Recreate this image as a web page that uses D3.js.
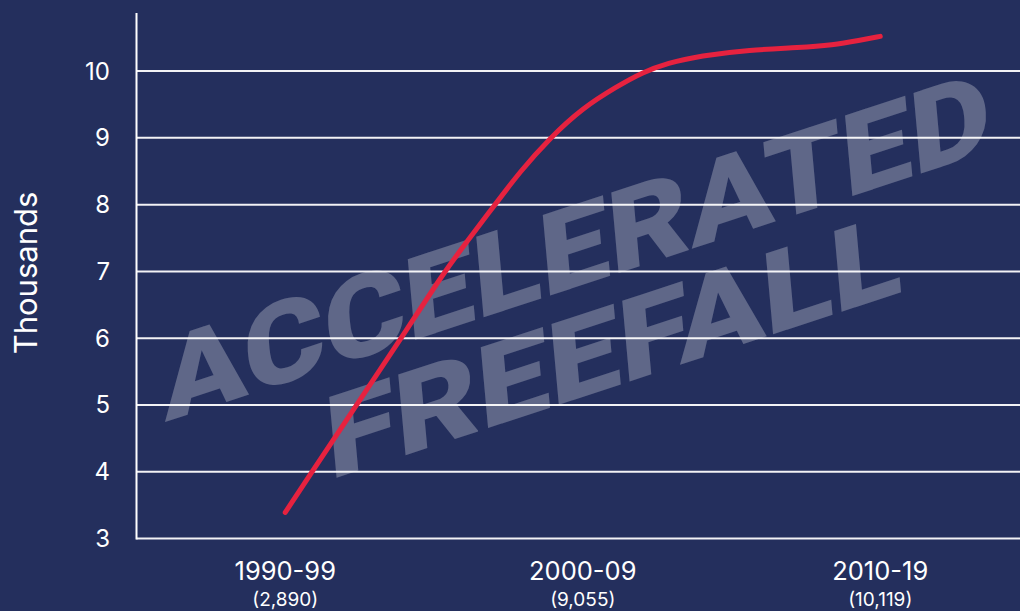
<!DOCTYPE html>
<html><head><meta charset="utf-8">
<script src="https://cdn.jsdelivr.net/npm/d3@7"></script>
<style>html,body{margin:0;padding:0;background:#242f5d;overflow:hidden} svg{display:block}</style>
</head><body><svg id="c" width="1020" height="611"></svg>
<script>
// ---- data ----
const decades = ["1990-99", "2000-09", "2010-19"];
const decadeTotals = ["(2,890)", "(9,055)", "(10,119)"];
const decadeMid = [1995, 2005, 2015];
const yTicks = [3, 4, 5, 6, 7, 8, 9, 10];
// curve as drawn (thousands)
const curveYears  = [1995.0, 1995.9, 1997.4, 1998.9, 2000.35, 2001.2, 2002.05, 2002.9, 2003.9, 2005.0, 2006.15, 2007.0, 2007.85, 2008.95, 2010.6, 2012.3, 2013.4, 2014.3, 2015.0];
const curveValues = [3.39,   4.0,    5.0,    6.0,    7.0,     7.5,    8.0,     8.5,    9.0,    9.45,   9.77,    9.98,   10.12,   10.23,   10.32,  10.35,  10.39,  10.46,  10.52];
const watermark = ["ACCELERATED", "FREEFALL"];
const yLabel = "Thousands";

// ---- layout ----
const W = 1020, H = 611;
const svg = d3.select("#c");
const BG = "#242f5d", RED = "#e6223f";
svg.append("rect").attr("width", W).attr("height", H).attr("fill", BG);

const x = d3.scaleLinear().domain([1990, 2020]).range([136.5, 1029]);
const y = d3.scaleLinear().domain([3, 10.87]).range([538.5, 13]);

// gridlines
svg.append("g").selectAll("line").data(yTicks).join("line")
  .attr("x1", x(1990)).attr("x2", W)
  .attr("y1", d => y(d)).attr("y2", d => y(d))
  .attr("stroke", "#f2f2f5").attr("stroke-width", 2);

// y axis line
svg.append("line").attr("x1", x(1990)).attr("x2", x(1990))
  .attr("y1", y(10.87)).attr("y2", y(3) + 1)
  .attr("stroke", "#ffffff").attr("stroke-width", 2);

// y tick labels
svg.append("g").selectAll("text").data(yTicks).join("text")
  .attr("x", 110).attr("y", d => y(d) + 8.5)
  .attr("text-anchor", "end")
  .attr("font-family", "Inter, 'Open Sans', sans-serif")
  .attr("font-size", 24).attr("fill", "#ffffff")
  .text(d => d);

// y label
svg.append("text")
  .attr("transform", "translate(37,273) rotate(-90)")
  .attr("text-anchor", "middle")
  .attr("font-family", "Inter, 'Open Sans', sans-serif")
  .attr("font-size", 31).attr("fill", "#ffffff")
  .text(yLabel);

// x labels
const xl = svg.append("g");
xl.selectAll("text.dec").data(decades).join("text").attr("class", "dec")
  .attr("x", (d, i) => x(decadeMid[i])).attr("y", 579.5)
  .attr("text-anchor", "middle")
  .attr("font-family", "Inter, 'Open Sans', sans-serif")
  .attr("font-size", 25.5).attr("fill", "#ffffff")
  .text(d => d);
xl.selectAll("text.tot").data(decadeTotals).join("text").attr("class", "tot")
  .attr("x", (d, i) => x(decadeMid[i])).attr("y", 606)
  .attr("text-anchor", "middle")
  .attr("font-family", "Inter, 'Open Sans', sans-serif")
  .attr("font-size", 19).attr("fill", "#ffffff")
  .text(d => d);

// watermark
const wm = svg.append("g").attr("transform", "translate(176.7,418.3) rotate(-18.2)");
const wmLen = [872, 604];
const wmX = [424, 428];
wm.selectAll("text").data(watermark).join("text")
  .attr("x", (d, i) => wmX[i]).attr("y", (d, i) => i * 106.5)
  .attr("transform", (d, i) => `translate(${wmX[i]},${i * 106.5}) skewX(-13) translate(${-wmX[i]},${-i * 106.5})`)
  .attr("text-anchor", "middle")
  .attr("font-family", "Roboto, Lato, sans-serif")
  .attr("font-weight", 900)
  .attr("font-size", 111)
  .attr("textLength", (d, i) => wmLen[i])
  .attr("lengthAdjust", "spacingAndGlyphs")
  .attr("fill", "#ffffff").attr("fill-opacity", 0.27)
  .text(d => d);

// curve
const pts = curveYears.map((yr, i) => [yr, curveValues[i]]);
svg.append("path").datum(pts)
  .attr("d", d3.line().x(d => x(d[0])).y(d => y(d[1])).curve(d3.curveBasis))
  .attr("fill", "none").attr("stroke", RED).attr("stroke-width", 5)
  .attr("stroke-linecap", "round").attr("stroke-linejoin", "round");
</script>
</body></html>
